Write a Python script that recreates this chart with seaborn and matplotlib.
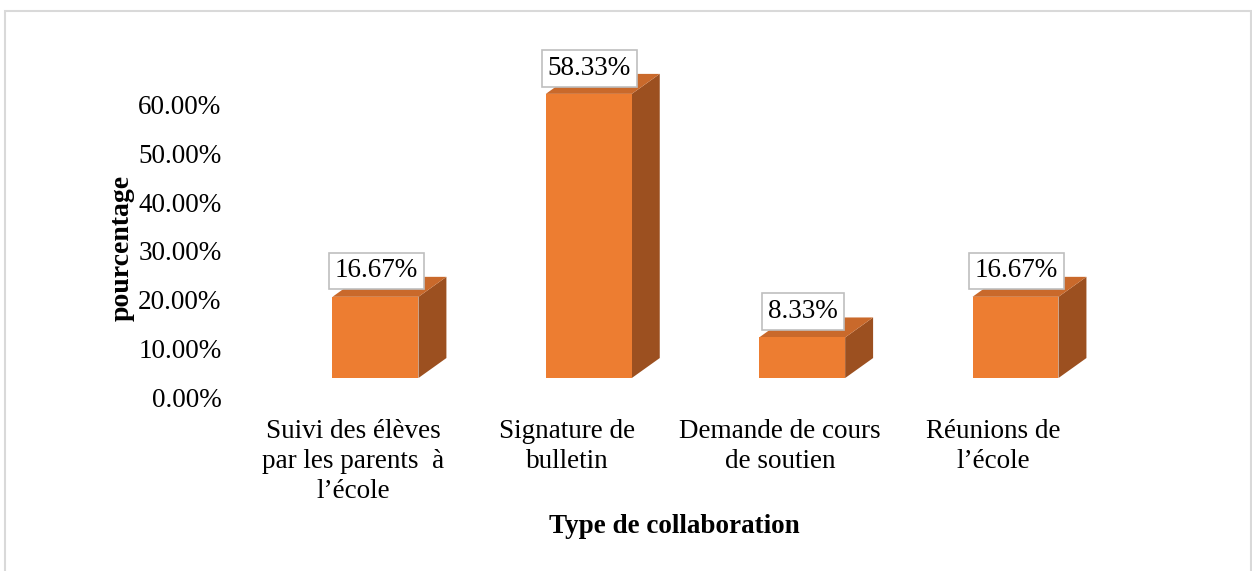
import matplotlib
matplotlib.use("Agg")
import matplotlib.pyplot as plt
import matplotlib.transforms as mtransforms
from matplotlib.patches import Polygon, Rectangle
import seaborn as sns
import pandas as pd

categories = [
    "Suivi des élèves\npar les parents  à\nl’école",
    "Signature de\nbulletin",
    "Demande de cours\nde soutien",
    "Réunions de\nl’école",
]
values = [16.67, 58.33, 8.33, 16.67]
value_labels = ["16.67%", "58.33%", "8.33%", "16.67%"]
y_ticks = [0, 10, 20, 30, 40, 50, 60]
y_tick_labels = ["0.00%", "10.00%", "20.00%", "30.00%", "40.00%", "50.00%", "60.00%"]
x_title = "Type de collaboration"
y_title = "pourcentage"

FRONT = "#ED7D31"
TOP = "#C9692B"
SIDE = "#9C5020"
FLOOR = 3.9      # visual 3D floor offset (data units)
DX, DY = 0.131, 4.1  # 3D depth offset
FS = 19.5

sns.set_theme(style="white")
plt.rcParams["font.family"] = ["Liberation Serif", "DejaVu Serif"]
plt.rcParams["text.color"] = "black"
plt.rcParams["xtick.color"] = "black"
plt.rcParams["ytick.color"] = "black"
plt.rcParams["axes.labelcolor"] = "black"

fig = plt.figure(figsize=(12.52, 5.71), dpi=100)
ax = fig.add_axes([0.2147, 0.3047, 0.6816, 0.5972])

df = pd.DataFrame({"cat": categories, "val": values})
sns.barplot(data=df, x="cat", y="val", color=FRONT, saturation=1, width=0.403,
            bottom=FLOOR, ax=ax, zorder=3)

for p in ax.patches[:len(values)]:
    p.set_facecolor(FRONT)
    p.set_edgecolor("none")
for p, lab in zip(list(ax.patches[:len(values)]), value_labels):
    x0, w = p.get_x(), p.get_width()
    y0, h = p.get_y(), p.get_height()
    y1 = y0 + h
    side = Polygon([(x0 + w, y0), (x0 + w + DX, y0 + DY), (x0 + w + DX, y1 + DY), (x0 + w, y1)],
                   closed=True, facecolor=SIDE, edgecolor="none", zorder=2, clip_on=False)
    top = Polygon([(x0, y1), (x0 + DX, y1 + DY), (x0 + w + DX, y1 + DY), (x0 + w, y1)],
                  closed=True, facecolor=TOP, edgecolor="none", zorder=2, clip_on=False)
    ax.add_patch(side)
    ax.add_patch(top)
    ax.text(x0 + w / 2 + 0.003, y1 + 5.3, lab, ha="center", va="center", fontsize=FS,
            color="black", zorder=5, clip_on=False,
            bbox=dict(boxstyle="square,pad=0.22", facecolor="white", edgecolor="#BFBFBF", linewidth=1.2))

ax.set_xlim(-0.5, 3.5)
ax.set_ylim(0, 70)
ax.set_yticks(y_ticks)
ax.set_yticklabels(y_tick_labels, fontsize=FS)
ax.tick_params(axis="y", length=0, pad=34)
ax.tick_params(axis="x", length=0, pad=16)
for t in ax.get_xticklabels():
    t.set_fontsize(FS)
    t.set_linespacing(1.26)
    t.set_transform(t.get_transform() + mtransforms.ScaledTranslation(-22 / 100, 0, fig.dpi_scale_trans))

for s in ax.spines.values():
    s.set_visible(False)

ax.set_xlabel(x_title, fontsize=FS, fontweight="bold", va="center")
ax.xaxis.set_label_coords(0.4754, -0.381)
ax.set_ylabel(y_title, fontsize=20, fontweight="bold", va="center", ha="center")
ax.yaxis.set_label_coords(-0.172, 0.437)

border = Rectangle((5 / 1252, -0.2), 1 - 6 / 1252, (571 - 11) / 571 + 0.2,
                   transform=fig.transFigure, facecolor="none", edgecolor="#D9D9D9",
                   linewidth=1.5, clip_on=False)
fig.patches.append(border)

fig.savefig("out.png", dpi=100, facecolor="white")
